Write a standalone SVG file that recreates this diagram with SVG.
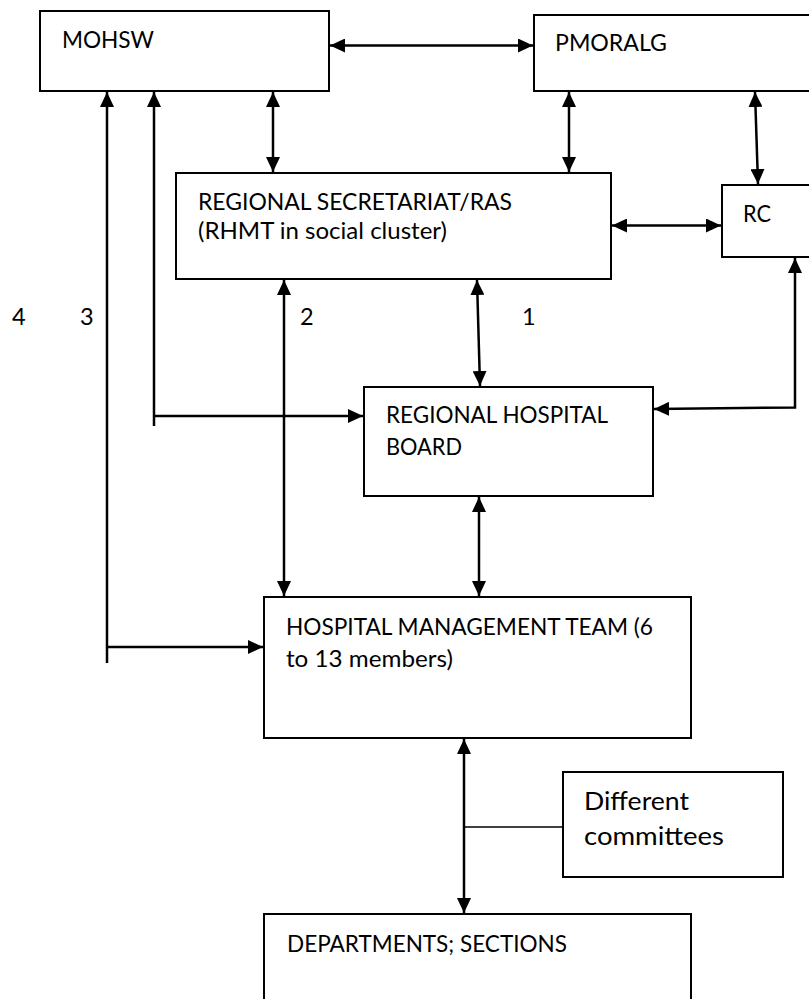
<svg xmlns="http://www.w3.org/2000/svg" width="809" height="999" viewBox="0 0 809 999">
<style>
.box{fill:#fff;stroke:#000;stroke-width:2}
.t{font-family:Lato,"Liberation Sans",sans-serif;font-size:23.5px;fill:#000}
.tl{font-family:Lato,"Liberation Sans",sans-serif;font-size:25.5px;fill:#000}
.c{fill:none;stroke:#000;stroke-width:2.5}
.thin{fill:none;stroke:#000;stroke-width:1.6}
</style>
<defs>
<marker id="ah" markerUnits="userSpaceOnUse" markerWidth="15" markerHeight="14" refX="15" refY="7" orient="auto-start-reverse" viewBox="0 0 15 14">
<path d="M0,0 L15,7 L0,14 z" fill="#000"/>
</marker>
</defs>
<rect width="809" height="999" fill="#fff"/>
<g id="mohsw"><rect class="box" x="40" y="11" width="289" height="80"/><text class="t" x="62" y="48" textLength="92" lengthAdjust="spacingAndGlyphs">MOHSW</text></g>
<g id="pmoralg"><rect class="box" x="534" y="15" width="290" height="76"/><text class="t" x="555" y="51" textLength="112" lengthAdjust="spacingAndGlyphs">PMORALG</text></g>
<g id="ras"><rect class="box" x="176" y="173" width="435" height="106"/><text class="t" x="198" y="210" textLength="314" lengthAdjust="spacingAndGlyphs">REGIONAL SECRETARIAT/RAS</text><text class="t" x="198" y="239" textLength="249" lengthAdjust="spacingAndGlyphs">(RHMT in social cluster)</text></g>
<g id="rc"><rect class="box" x="722" y="185" width="100" height="72"/><text class="t" x="743" y="222" textLength="28" lengthAdjust="spacingAndGlyphs">RC</text></g>
<g id="rhb"><rect class="box" x="364" y="387" width="289" height="109"/><text class="t" x="386" y="423" textLength="222" lengthAdjust="spacingAndGlyphs">REGIONAL HOSPITAL</text><text class="t" x="386" y="455" textLength="76" lengthAdjust="spacingAndGlyphs">BOARD</text></g>
<g id="hmt"><rect class="box" x="264" y="597" width="427" height="141"/><text class="t" x="286" y="635" textLength="367" lengthAdjust="spacingAndGlyphs">HOSPITAL MANAGEMENT TEAM (6</text><text class="t" x="286" y="667" textLength="167" lengthAdjust="spacingAndGlyphs">to 13 members)</text></g>
<g id="committees"><rect class="box" x="563" y="772" width="220" height="105"/><text class="tl" x="584" y="810" textLength="105" lengthAdjust="spacingAndGlyphs">Different</text><text class="tl" x="584" y="845" textLength="140" lengthAdjust="spacingAndGlyphs">committees</text></g>
<g id="departments"><rect class="box" x="264" y="914" width="427" height="110"/><text class="t" x="287" y="952" textLength="280" lengthAdjust="spacingAndGlyphs">DEPARTMENTS; SECTIONS</text></g>
<g id="labels">
<text class="t" x="12" y="325">4</text>
<text class="t" x="80" y="325">3</text>
<text class="t" x="300" y="325">2</text>
<text class="t" x="522" y="325">1</text>
</g>
<g id="connectors">
<line class="c" x1="330" y1="45.5" x2="533" y2="45.5" marker-start="url(#ah)" marker-end="url(#ah)"/>
<line class="c" x1="273" y1="92" x2="273" y2="172" marker-start="url(#ah)" marker-end="url(#ah)"/>
<line class="c" x1="569" y1="92" x2="569" y2="172" marker-start="url(#ah)" marker-end="url(#ah)"/>
<line class="c" x1="755" y1="92" x2="758" y2="184" marker-start="url(#ah)" marker-end="url(#ah)"/>
<line class="c" x1="612" y1="225.5" x2="721" y2="225.5" marker-start="url(#ah)" marker-end="url(#ah)"/>
<line class="c" x1="477" y1="280" x2="480" y2="386" marker-start="url(#ah)" marker-end="url(#ah)"/>
<polyline class="c" points="795,258 795,407.5 654,409" marker-start="url(#ah)" marker-end="url(#ah)"/>
<line class="c" x1="479" y1="497" x2="479" y2="596" marker-start="url(#ah)" marker-end="url(#ah)"/>
<line class="c" x1="284" y1="280" x2="284" y2="596" marker-start="url(#ah)" marker-end="url(#ah)"/>
<line class="c" x1="154" y1="92" x2="154" y2="426" marker-start="url(#ah)"/>
<line class="c" x1="154" y1="416" x2="363" y2="416" marker-end="url(#ah)"/>
<line class="c" x1="107" y1="92" x2="107" y2="663" marker-start="url(#ah)"/>
<line class="c" x1="107" y1="647" x2="263" y2="647" marker-end="url(#ah)"/>
<line class="c" x1="464" y1="739" x2="464" y2="913" marker-start="url(#ah)" marker-end="url(#ah)"/>
<line class="thin" x1="464" y1="827" x2="563" y2="827"/>
</g>
</svg>
